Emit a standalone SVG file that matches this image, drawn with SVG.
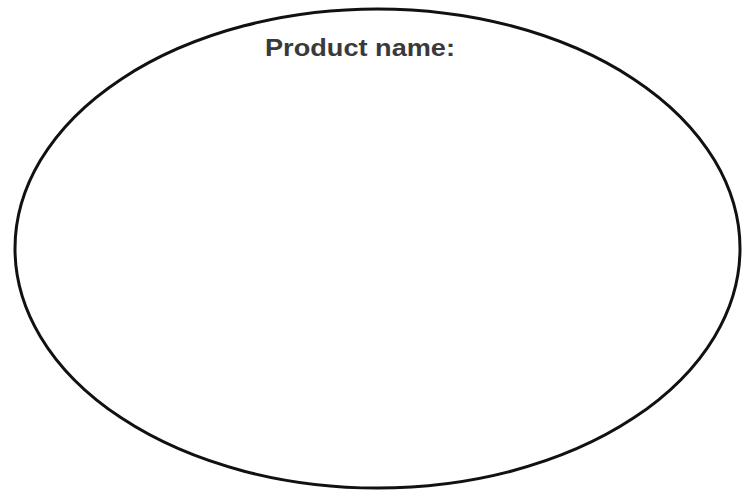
<svg xmlns="http://www.w3.org/2000/svg" width="744" height="493" viewBox="0 0 744 493">
<style>
.outline{fill:#fff;stroke:#111;stroke-width:3}
.label{font-family:"Liberation Sans",Arial,sans-serif;font-size:23px;font-weight:bold;fill:#3a3a3a}
</style>
<rect width="744" height="493" fill="#fff"/>
<g id="product">
<ellipse class="outline" cx="377.5" cy="248.5" rx="362.5" ry="239.5"/>
<text class="label" x="265" y="56" textLength="190" lengthAdjust="spacingAndGlyphs">Product name:</text>
</g>
</svg>
